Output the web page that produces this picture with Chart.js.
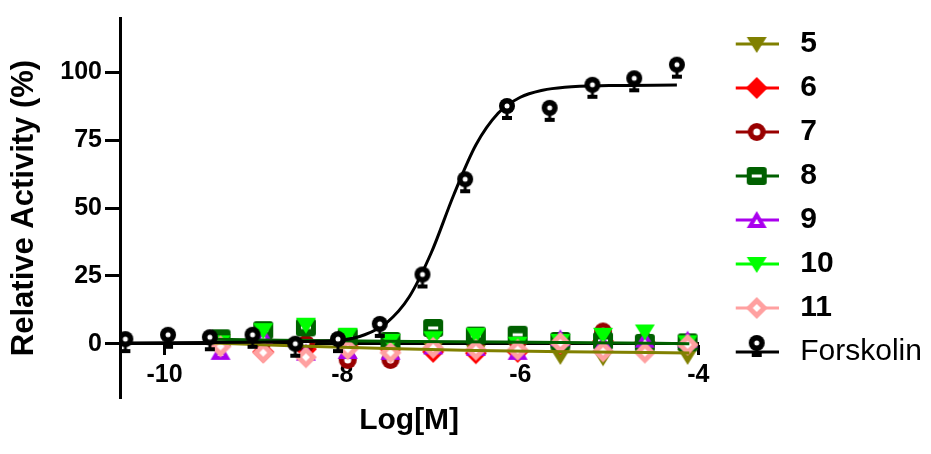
<!DOCTYPE html>
<html>
<head>
<meta charset="utf-8">
<script src="https://cdn.jsdelivr.net/npm/chart.js@4"></script>
<style>
  html, body { margin: 0; padding: 0; background: #fff; }
</style>
</head>
<body>
<canvas id="myChart" width="931" height="454"></canvas>
<script>
// log concentrations
const forskolinX = [-10.44, -9.96, -9.49, -9.01, -8.53, -8.05, -7.58, -7.10, -6.62, -6.15, -5.67, -5.19, -4.72, -4.24];
const forskolinY = [1.7, 3.3, 2.4, 3.3, 0, 1.7, 7.3, 25.5, 60.6, 87.6, 86.9, 95.4, 97.8, 102.8];
const compoundX = [-9.37, -8.89, -8.41, -7.94, -7.46, -6.98, -6.50, -6.03, -5.55, -5.07, -4.60, -4.12];

const c5  = [1, -1, -2, -1, -2, -2, -3, -2, -4.5, -5, -3, -4.5];
const c6  = [0, -3, -2, -1, -2, -3, -3.5, -3, 0, 1, 0.5, 0];
const c7  = [0.5, 1, 0, -6, -6, 4.5, 1, 1, 0, 4.5, 1, 0];
const c8  = [2, 5, 6, 2.5, 1, 5.8, 3, 3.3, 1, 1, 0.3, 0.5];
const c9  = [-3, 3, -3.3, -2.7, -3, -1, -1.5, -3, 2, 0, 1.5, 1.5];
const c10 = [0.5, 5, 7, 3.3, 1, 2, 3.3, 0, 1, 3.3, 4.5, 0.5];
const c11 = [-1, -3.3, -5, -2, -3.3, -1.5, -2.2, -2.2, 0.3, -2.8, -3.3, -0.4];

// fitted curves
const fitForskolinX = [-10.45, -9, -8.5, -8, -7.75, -7.5, -7.25, -7, -6.75, -6.5, -6.25, -6, -5.75, -5.5, -5, -4.24];
const fitForskolinY = [0.3, 0.5, 0.8, 1.4, 3.3, 7.8, 17.2, 33.6, 54.7, 73.2, 84.9, 90.8, 93.4, 94.5, 95.1, 95.3];
const fit5X = [-9.45, -8.5, -7.5, -6.5, -5.5, -4.1];
const fit5Y = [0.3, -0.8, -1.8, -2.5, -3.0, -3.4];
const fit8X = [-9.45, -7.2, -5.2, -4.1];
const fit8Y = [1.6, 0.8, 0.4, 0];

const seriesNames = ['5', '6', '7', '8', '9', '10', '11', 'Forskolin'];
const seriesColors = ['#808000', '#ff0000', '#990000', '#006000', '#aa00ee', '#00ff00', '#ffa0a0', '#000000'];
const seriesShapes = ['triDown', 'diamond', 'circleOpen', 'squareOpen', 'triUpOpen', 'triDown', 'diamondOpen', 'keyhole'];
const compoundValues = [c5, c6, c7, c8, c9, c10, c11];

const xTicks = [-10, -8, -6, -4];
const yTicks = [0, 25, 50, 75, 100];

const FONT = '"Liberation Sans", Arial, sans-serif';

function poly(ctx, pts) {
  ctx.beginPath();
  ctx.moveTo(pts[0][0], pts[0][1]);
  for (let i = 1; i < pts.length; i++) ctx.lineTo(pts[i][0], pts[i][1]);
  ctx.closePath();
}

function drawSymbol(ctx, shape, color, cx, cy) {
  ctx.fillStyle = color;
  if (shape === 'triDown') {
    poly(ctx, [[cx - 10, cy - 7], [cx + 10, cy - 7], [cx, cy + 9]]); ctx.fill();
  } else if (shape === 'diamond') {
    poly(ctx, [[cx, cy - 11], [cx + 11, cy], [cx, cy + 11], [cx - 11, cy]]); ctx.fill();
  } else if (shape === 'diamondOpen') {
    poly(ctx, [[cx, cy - 11], [cx + 11, cy], [cx, cy + 11], [cx - 11, cy]]); ctx.fill();
    ctx.fillStyle = '#fff';
    poly(ctx, [[cx, cy - 4], [cx + 4, cy], [cx, cy + 4], [cx - 4, cy]]); ctx.fill();
  } else if (shape === 'circleOpen') {
    ctx.beginPath(); ctx.arc(cx, cy, 9, 0, Math.PI * 2); ctx.fill();
    ctx.fillStyle = '#fff';
    ctx.beginPath(); ctx.arc(cx, cy, 3.5, 0, Math.PI * 2); ctx.fill();
  } else if (shape === 'squareOpen') {
    ctx.beginPath(); ctx.roundRect(cx - 10, cy - 9, 20, 18, 3); ctx.fill();
    ctx.fillStyle = '#fff';
    ctx.fillRect(cx - 5, cy - 1.5, 10, 3);
  } else if (shape === 'triUpOpen') {
    poly(ctx, [[cx - 10, cy + 8], [cx + 10, cy + 8], [cx, cy - 9]]); ctx.fill();
    ctx.fillStyle = '#fff';
    poly(ctx, [[cx - 3, cy + 4], [cx + 3, cy + 4], [cx, cy - 1]]); ctx.fill();
  } else if (shape === 'keyhole') {
    ctx.beginPath(); ctx.arc(cx, cy, 8, 0, Math.PI * 2); ctx.fill();
    ctx.fillRect(cx - 1.5, cy + 6, 3, 7);
    ctx.fillRect(cx - 5, cy + 10, 10, 4);
    ctx.fillStyle = '#fff';
    ctx.beginPath(); ctx.arc(cx, cy, 2.5, 0, Math.PI * 2); ctx.fill();
  }
}

function pointIcon(shape, color) {
  const c = document.createElement('canvas');
  c.width = 26; c.height = 32;
  drawSymbol(c.getContext('2d'), shape, color, 13, 16);
  return c;
}

function legendIcon(shape, color) {
  const c = document.createElement('canvas');
  c.width = 60; c.height = 34;
  const ctx = c.getContext('2d');
  ctx.fillStyle = color;
  ctx.fillRect(17, 15.5, 43, 3);
  drawSymbol(ctx, shape, color, 38, shape === 'keyhole' ? 8 : 17);
  return c;
}

const pointIcons = seriesShapes.map((s, i) => pointIcon(s, seriesColors[i]));
const legendIcons = seriesShapes.map((s, i) => legendIcon(s, seriesColors[i]));

const datasets = [];
compoundValues.forEach((vals, i) => {
  datasets.push({
    label: seriesNames[i],
    data: compoundX.map((x, j) => ({ x: x, y: vals[j] })),
    pointStyle: pointIcons[i],
    pointRadius: 10,
    showLine: false,
    order: 10 - i
  });
});
datasets.push({
  label: 'Forskolin',
  data: forskolinX.map((x, j) => ({ x: x, y: forskolinY[j] })),
  pointStyle: pointIcons[7],
  pointRadius: 10,
  showLine: false,
  order: 0
});
datasets.push({
  label: 'fitForskolin',
  data: fitForskolinX.map((x, j) => ({ x: x, y: fitForskolinY[j] })),
  showLine: true, pointRadius: 0, borderColor: '#000', borderWidth: 3,
  cubicInterpolationMode: 'monotone', order: 1
});
datasets.push({
  label: 'fit8',
  data: fit8X.map((x, j) => ({ x: x, y: fit8Y[j] })),
  showLine: true, pointRadius: 0, borderColor: seriesColors[3], borderWidth: 3,
  cubicInterpolationMode: 'monotone', order: 2
});
datasets.push({
  label: 'fit5',
  data: fit5X.map((x, j) => ({ x: x, y: fit5Y[j] })),
  showLine: true, pointRadius: 0, borderColor: seriesColors[0], borderWidth: 3,
  cubicInterpolationMode: 'monotone', order: 2
});

// "Forskolin" is plain weight in the legend, the numbers are bold
const forskolinLabel = {
  id: 'forskolinLabel',
  afterDraw(chart) {
    const lg = chart.legend;
    const pad = 14, itemH = 30;
    const ctx = chart.ctx;
    ctx.save();
    ctx.font = 'normal 30px ' + FONT;
    ctx.fillStyle = '#000';
    ctx.textBaseline = 'middle';
    ctx.textAlign = 'left';
    ctx.fillText('Forskolin', lg.left + pad + 73 + 15, lg.top + pad + 7 * (itemH + pad) + itemH / 2);
    ctx.restore();
  }
};

const ctx = document.getElementById('myChart');
new Chart(ctx, {
  type: 'scatter',
  data: { datasets: datasets },
  plugins: [forskolinLabel],
  options: {
    responsive: false,
    animation: false,
    devicePixelRatio: 1,
    layout: { padding: { top: 15, bottom: 56, left: 0, right: 0 } },
    plugins: {
      tooltip: { enabled: false },
      legend: {
        position: 'right',
        align: 'start',
        labels: {
          usePointStyle: true,
          pointStyleWidth: 73,
          padding: 14,
          color: '#000',
          font: { family: FONT, size: 30, weight: 'bold' },
          generateLabels: () => seriesNames.map((name, i) => ({
            text: name,
            pointStyle: legendIcons[i],
            fillStyle: seriesColors[i],
            strokeStyle: seriesColors[i],
            lineWidth: 0,
            hidden: false,
            datasetIndex: i,
            fontColor: i === 7 ? 'rgba(0,0,0,0)' : '#000'
          }))
        }
      }
    },
    scales: {
      x: {
        type: 'linear',
        min: -10.5,
        max: -4,
        position: { y: 0 },
        afterBuildTicks: s => { s.ticks = xTicks.map(v => ({ value: v })); },
        grid: { drawOnChartArea: false, drawTicks: true, tickLength: 10, tickWidth: 3, color: '#000' },
        border: { display: true, color: '#000', width: 3 },
        ticks: { color: '#000', padding: 6, maxRotation: 0, autoSkip: false,
                 font: { family: FONT, size: 25, weight: 'bold' } },
        title: { display: true, text: 'Log[M]', color: '#000', padding: { top: 7, bottom: 0 },
                 font: { family: FONT, size: 30, weight: 'bold' } }
      },
      y: {
        type: 'linear',
        min: -20,
        max: 120,
        afterBuildTicks: s => { s.ticks = yTicks.map(v => ({ value: v })); },
        afterFit: s => { s.width = 120; },
        grid: { drawOnChartArea: false, drawTicks: true, tickLength: 15, tickWidth: 3, color: '#000' },
        border: { display: true, color: '#000', width: 3 },
        ticks: { color: '#000', padding: 3,
                 font: { family: FONT, size: 25, weight: 'bold' } },
        title: { display: true, text: 'Relative Activity (%)', color: '#000', padding: { top: 6, bottom: 0 },
                 font: { family: FONT, size: 31, weight: 'bold' } }
      }
    }
  }
});
</script>
</body>
</html>
